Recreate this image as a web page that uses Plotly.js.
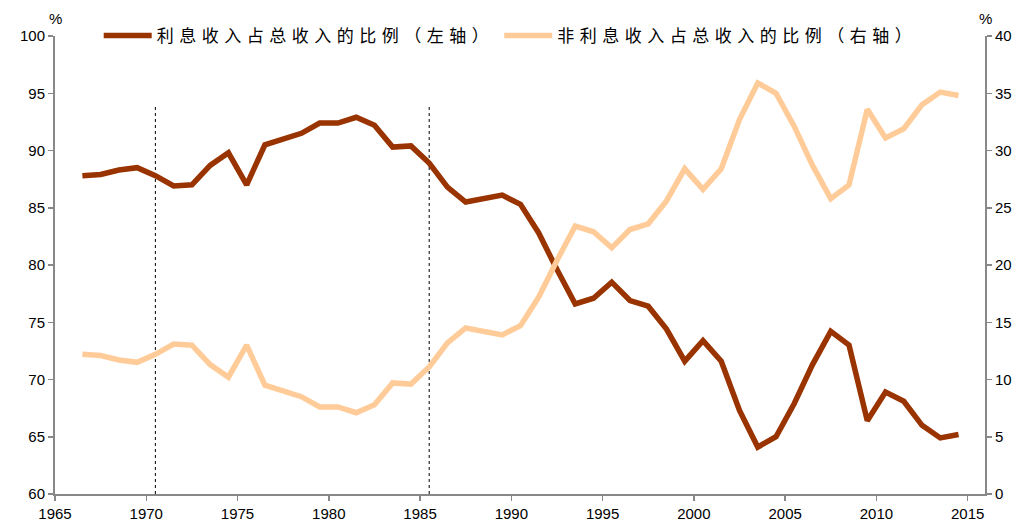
<!DOCTYPE html>
<html>
<head>
<meta charset="utf-8">
<script src="https://cdn.plot.ly/plotly-3.0.1.min.js"></script>
<style>
  html, body { margin: 0; padding: 0; background: #fff; }
  #chart { width: 1020px; height: 522px; }
  .legendtext { letter-spacing: 5.5px; }
</style>
</head>
<body>
<div id="chart"></div>
<script>
// Years (annual values, plotted at mid-year)
const years = [1966,1967,1968,1969,1970,1971,1972,1973,1974,1975,1976,1977,1978,1979,1980,
  1981,1982,1983,1984,1985,1986,1987,1988,1989,1990,1991,1992,1993,1994,1995,1996,1997,1998,
  1999,2000,2001,2002,2003,2004,2005,2006,2007,2008,2009,2010,2011,2012,2013,2014];

// 利息收入占总收入的比例 (left axis, %)
const interestShare = [87.8,87.9,88.3,88.5,87.8,86.9,87.0,88.7,89.8,87.0,90.5,91.0,91.5,92.4,92.4,
  92.9,92.2,90.3,90.4,88.9,86.8,85.5,85.8,86.1,85.3,82.8,79.6,76.6,77.1,78.5,76.9,76.4,74.4,
  71.6,73.4,71.6,67.3,64.1,65.0,67.9,71.3,74.2,73.0,66.4,68.9,68.1,66.0,64.9,65.2];

// 非利息收入占总收入的比例 (right axis, %)
const nonInterestShare = [12.2,12.1,11.7,11.5,12.2,13.1,13.0,11.3,10.2,13.0,9.5,9.0,8.5,7.6,7.6,
  7.1,7.8,9.7,9.6,11.1,13.2,14.5,14.2,13.9,14.7,17.2,20.4,23.4,22.9,21.5,23.1,23.6,25.6,
  28.4,26.6,28.4,32.7,35.9,35.0,32.1,28.7,25.8,27.0,33.6,31.1,31.9,34.0,35.1,34.8];

// Marked years (vertical dotted lines)
const markedYears = [1970, 1985];

const seriesNames = ['利息收入占总收入的比例（左轴）', '非利息收入占总收入的比例（右轴）'];
const xTicks = [1965,1970,1975,1980,1985,1990,1995,2000,2005,2010,2015];

const xs = years.map(y => y + 0.5);

const traces = [
  {
    x: xs, y: interestShare, name: seriesNames[0], type: 'scatter', mode: 'lines',
    line: {color: '#993300', width: 5.5}, yaxis: 'y'
  },
  {
    x: xs, y: nonInterestShare, name: seriesNames[1], type: 'scatter', mode: 'lines',
    line: {color: '#FFCC99', width: 5.5}, yaxis: 'y2'
  }
];

const axisFont = {family: 'Liberation Sans, Arial, sans-serif', size: 15, color: '#000'};

const layout = {
  width: 1020, height: 522,
  margin: {l: 54.5, r: 35, t: 36, b: 28, pad: 0},
  paper_bgcolor: '#fff', plot_bgcolor: '#fff',
  showlegend: true,
  legend: {
    orientation: 'h', x: 0.49, xanchor: 'center', y: 1.0, yanchor: 'middle',
    font: {family: 'Noto Sans CJK SC, sans-serif', size: 17, color: '#000'},
    bgcolor: 'rgba(0,0,0,0)', itemwidth: 48, traceorder: 'normal'
  },
  xaxis: {
    range: [1965, 2015.95], tickmode: 'array', tickvals: xTicks, ticktext: xTicks.map(String),
    showgrid: false, zeroline: false, showline: true, linecolor: '#888', linewidth: 2,
    ticks: 'outside', ticklen: 5, tickcolor: '#888', tickwidth: 1.5,
    tickfont: axisFont, fixedrange: true
  },
  yaxis: {
    range: [60, 100], dtick: 5, tick0: 60,
    showgrid: false, zeroline: false, showline: true, linecolor: '#888', linewidth: 2,
    ticks: 'outside', ticklen: 5, tickcolor: '#888', tickwidth: 1.5,
    tickfont: axisFont, fixedrange: true
  },
  yaxis2: {
    range: [0, 40], dtick: 5, tick0: 0, overlaying: 'y', side: 'right',
    showgrid: false, zeroline: false, showline: true, linecolor: '#888', linewidth: 2,
    ticks: 'outside', ticklen: 5, tickcolor: '#888', tickwidth: 1.5,
    tickfont: axisFont, fixedrange: true
  },
  shapes: markedYears.map(y => ({
    type: 'line', xref: 'x', yref: 'y', x0: y + 0.5, x1: y + 0.5, y0: 60, y1: 93.8,
    line: {color: '#000', width: 1, dash: 'dot'}, layer: 'below'
  })),
  annotations: [
    {text: '%', xref: 'paper', yref: 'paper', x: 0, y: 1.039, xanchor: 'center', yanchor: 'middle',
     showarrow: false, font: axisFont},
    {text: '%', xref: 'paper', yref: 'paper', x: 1, y: 1.039, xanchor: 'center', yanchor: 'middle',
     showarrow: false, font: axisFont}
  ]
};

Plotly.newPlot('chart', traces, layout, {displayModeBar: false, staticPlot: true});
</script>
</body>
</html>
